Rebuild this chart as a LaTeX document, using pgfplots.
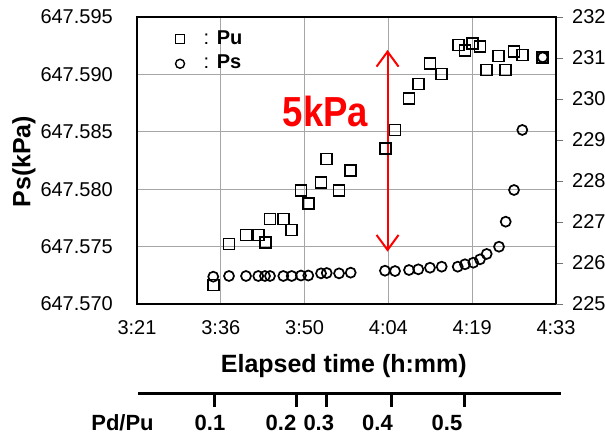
\documentclass[border=0pt]{standalone}
\usepackage{pgfplots}
\pgfplotsset{compat=1.18}
\usepackage{pgfplotstable}
\usepackage{fontspec}
\setmainfont{Liberation Sans}
\usetikzlibrary{arrows.meta}

% x: tick units (0 = 3:21, 1 = 3:36, ... 5 = 4:33); y: Pa above 647.570 kPa
\pgfplotstableread{
u y
0.910 1.66
1.098 5.23
1.301 6.01
1.447 6.01
1.536 5.37
1.587 7.40
1.746 7.40
1.846 6.45
1.957 9.87
2.044 8.77
2.196 10.57
2.264 12.63
2.411 9.87
2.550 11.61
2.968 13.56
3.079 15.16
3.246 17.92
3.357 19.16
3.496 20.97
3.636 20.04
3.834 22.56
3.914 22.07
4.006 22.71
4.093 22.41
4.173 20.38
4.311 21.60
4.400 20.38
4.499 21.98
4.598 21.69
4.841 21.49
}\pudata

\pgfplotstableread{
u y
0.910 2.38
1.098 2.44
1.301 2.44
1.447 2.44
1.527 2.44
1.587 2.44
1.746 2.44
1.846 2.44
1.957 2.48
2.044 2.48
2.196 2.67
2.264 2.70
2.411 2.67
2.550 2.73
2.959 2.90
3.079 2.87
3.246 2.96
3.357 3.02
3.496 3.16
3.636 3.25
3.827 3.25
3.914 3.46
4.013 3.60
4.093 3.89
4.173 4.36
4.320 4.99
4.400 7.17
4.499 9.93
4.598 15.16
4.841 21.49
}\psdata

\begin{document}
\begin{tikzpicture}
\useasboundingbox (0pt,0pt) rectangle (605pt,437pt);
\begin{axis}[
  at={(137pt,133pt)}, anchor=south west,
  scale only axis, width=419pt, height=287pt,
  xmin=0, xmax=5, ymin=0, ymax=25,
  xtick={0,1,2,3,4,5}, xticklabels={3:21,3:36,3:50,4:04,4:19,4:33},
  ytick={0,5,10,15,20,25},
  yticklabels={647.570,647.575,647.580,647.585,647.590,647.595},
  xmajorgrids, ymajorgrids, grid style={black!35, line width=0.9pt},
  major tick length=0pt,
  axis line style={line width=2.5pt},
  tick label style={font=\fontsize{20}{24}\selectfont, inner sep=0pt},
  xticklabel style={anchor=north, yshift=-16.5pt},
  yticklabel style={anchor=east, xshift=-24pt},
  xlabel={Elapsed time (h:mm)}, ylabel={Ps(kPa)},
  label style={font=\bfseries\fontsize{25}{30}\selectfont},
  xlabel style={at={(axis description cs:0.4936,-0.2178)}, anchor=center},
  ylabel style={at={(axis description cs:-0.2697,0.496)}, anchor=center},
  legend style={draw=none, fill=none, inner sep=0pt, outer sep=0pt,
    row sep=4.7pt, column sep=18pt,
    nodes={inner sep=1pt, text height=14pt, text depth=4pt},
    font=\fontsize{20}{24}\selectfont,
    at={(axis description cs:0.092,0.958)}, anchor=north west},
  legend cell align=left,
  legend image post style={mark size=4.5pt, line width=1.4pt},
]
\addplot[only marks, mark=square, mark size=5.5pt, line width=1.8pt, black] table[x=u,y=y] {\pudata};
\addlegendentry{:\hspace{7.8pt}\textbf{Pu}}
\addplot[only marks, mark=o, mark size=5pt, line width=1.7pt, black] table[x=u,y=y] {\psdata};
\addlegendentry{:\hspace{7.8pt}\textbf{Ps}}
\draw[red, line width=2pt, {Straight Barb[length=15pt,width=22pt]}-{Straight Barb[length=15pt,width=22pt]}] (axis cs:2.99,22.13) -- (axis cs:2.99,4.56);
\node[text=red, font=\bfseries\fontsize{42}{48}\selectfont, xscale=0.87] at (axis cs:2.249,16.77) {5kPa};
\end{axis}

\begin{axis}[
  at={(137pt,133pt)}, anchor=south west,
  scale only axis, width=419pt, height=287pt,
  xmin=0, xmax=5, ymin=225, ymax=232,
  hide x axis, axis y line*=right,
  ytick={225,226,227,228,229,230,231,232},
  yticklabels={225,226,227,228,229,230,231,232},
  tick align=outside, major tick length=7pt,
  tick style={black!55, line width=1pt},
  axis line style={line width=2.5pt, -},
  yticklabel style={anchor=west, inner sep=0pt, xshift=9pt, font=\fontsize{20}{24}\selectfont},
]
\addplot[draw=none] coordinates {(0,225)};
\end{axis}

\begin{axis}[
  at={(138pt,44pt)}, anchor=south west,
  scale only axis, width=423pt, height=10pt,
  xmin=138, xmax=561, ymin=0, ymax=1,
  axis x line*=bottom, hide y axis,
  axis line style={line width=3pt, -},
  xtick={214.3,296.7,326.7,391.7,464.5}, xticklabels={,,,,},
  tick align=outside, major tick length=14pt,
  tick style={line width=3pt, black},
  clip=false,
]
\addplot[draw=none] coordinates {(200,0.5)};
\node[font=\bfseries\fontsize{22}{26}\selectfont] at (axis cs:122.5,0) [yshift=-30pt] {Pd/Pu};
\node[font=\bfseries\fontsize{22}{26}\selectfont] at (axis cs:210,0) [yshift=-30pt] {0.1};
\node[font=\bfseries\fontsize{22}{26}\selectfont] at (axis cs:281,0) [yshift=-30pt] {0.2};
\node[font=\bfseries\fontsize{22}{26}\selectfont] at (axis cs:318.8,0) [yshift=-30pt] {0.3};
\node[font=\bfseries\fontsize{22}{26}\selectfont] at (axis cs:377.5,0) [yshift=-30pt] {0.4};
\node[font=\bfseries\fontsize{22}{26}\selectfont] at (axis cs:447,0) [yshift=-30pt] {0.5};
\end{axis}
\end{tikzpicture}
\end{document}
